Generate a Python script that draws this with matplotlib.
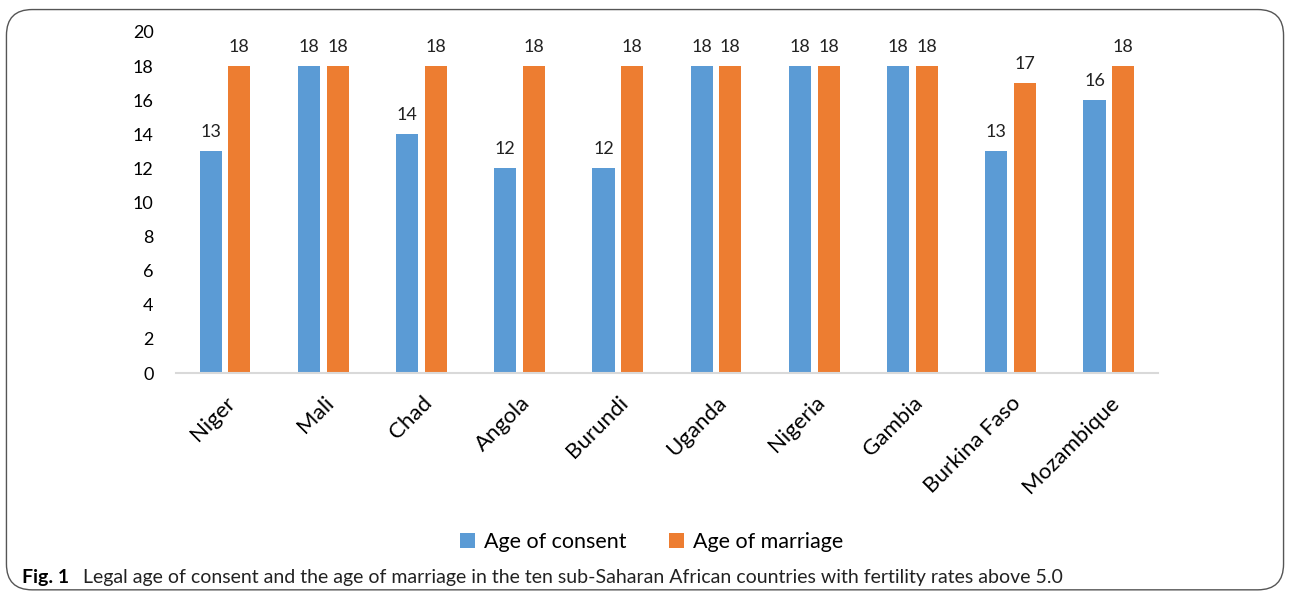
import numpy as np
import matplotlib.pyplot as plt
from matplotlib.patches import FancyBboxPatch

countries = ["Niger", "Mali", "Chad", "Angola", "Burundi", "Uganda",
             "Nigeria", "Gambia", "Burkina Faso", "Mozambique"]
age_consent = [13, 18, 14, 12, 12, 18, 18, 18, 13, 16]
age_marriage = [18, 18, 18, 18, 18, 18, 18, 18, 17, 18]
yticks = [0, 2, 4, 6, 8, 10, 12, 14, 16, 18, 20]

plt.rcParams['font.family'] = ['Lato', 'DejaVu Sans']

fig = plt.figure(figsize=(12.9, 5.97), dpi=100)
ax = fig.add_axes([0.1364, 0.3752, 0.7612, 0.5712])

x = np.arange(len(countries))
w = 0.225
off = 0.146
b1 = ax.bar(x - off, age_consent, w, color="#5B9BD5", label="Age of consent")
b2 = ax.bar(x + off, age_marriage, w, color="#ED7D31", label="Age of marriage")
ax.bar_label(b1, padding=8, fontsize=13, color="#222222")
ax.bar_label(b2, padding=8, fontsize=13, color="#222222")

ax.set_xlim(-0.5, len(countries) - 0.5)
ax.set_ylim(0, 20)
ax.set_yticks(yticks)
ax.tick_params(axis="y", length=0, pad=16, labelsize=13)
ax.set_xticks(x)
ax.set_xticklabels(countries, rotation=45, ha="right", rotation_mode="anchor",
                   fontsize=16)
ax.tick_params(axis="x", length=0, pad=14)
for s in ["top", "right", "left"]:
    ax.spines[s].set_visible(False)
ax.spines["bottom"].set_color("#D9D9D9")
ax.spines["bottom"].set_linewidth(1.5)

fig.legend(handles=[b1, b2], loc="center", bbox_to_anchor=(0.505, 0.092),
           ncol=2, frameon=False, fontsize=15.5, handlelength=0.7,
           handleheight=0.7, handletextpad=0.4, columnspacing=2.0)

fig.text(0.017, 0.033, "Fig. 1", fontsize=14, fontweight="bold",
         va="center", ha="left")
fig.text(0.064, 0.033, "Legal age of consent and the age of marriage in the ten "
         "sub-Saharan African countries with fertility rates above 5.0",
         fontsize=14, va="center", ha="left", color="#222222")

border = FancyBboxPatch((0.005, 0.012), 0.99, 0.972,
                        boxstyle="round,pad=0,rounding_size=0.02",
                        transform=fig.transFigure, fill=False,
                        edgecolor="#555555", linewidth=1.0,
                        mutation_aspect=1290 / 597)
fig.patches.append(border)

fig.savefig("out.png", dpi=100)
